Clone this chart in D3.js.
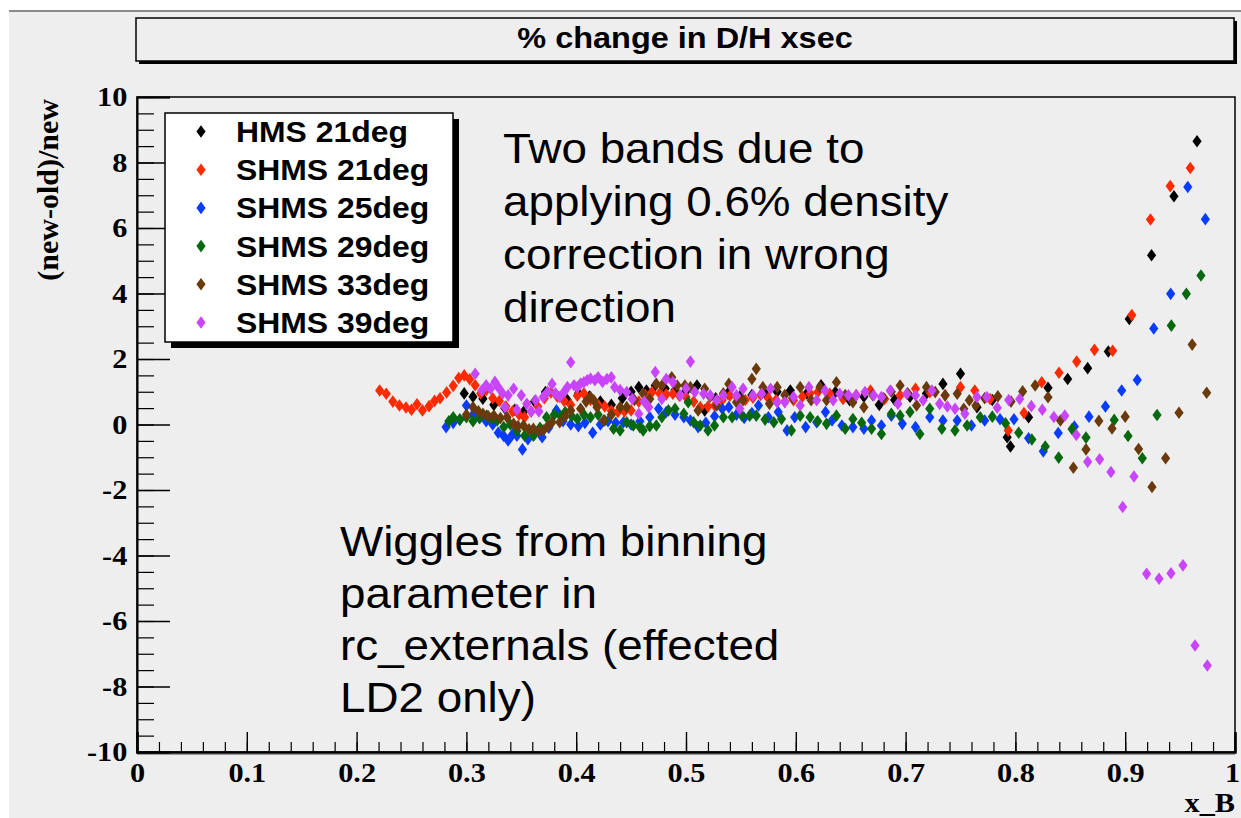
<!DOCTYPE html>
<html>
<head>
<meta charset="utf-8">
<script src="https://cdn.jsdelivr.net/npm/d3@7"></script>
<style>
  html, body { margin: 0; padding: 0; background: #ffffff; }
  svg { display: block; }
</style>
</head>
<body>
<svg id="chart" width="1241" height="818"></svg>
<script>
// ---- series (x_B, percent change) ----
const seriesNames = ["HMS 21deg", "SHMS 21deg", "SHMS 25deg", "SHMS 29deg", "SHMS 33deg", "SHMS 39deg"];
const seriesColors = ["#000000", "#ff2a00", "#0a3cff", "#07680f", "#6a3a0c", "#c845fb"];

const hms21 = [
  [0.298,0.95],[0.306,0.85],[0.315,0.79],[0.325,0.60],[0.335,0.50],[0.344,0.45],[0.352,0.38],[0.362,0.70],
  [0.372,0.99],[0.382,0.90],[0.392,0.75],[0.402,0.95],[0.412,0.85],[0.422,0.70],[0.432,0.60],[0.442,0.80],
  [0.450,1.00],[0.457,1.14],[0.464,1.04],[0.472,1.19],[0.481,1.10],[0.490,1.05],[0.500,1.02],[0.510,1.19],
  [0.517,0.43],[0.527,0.80],[0.538,0.95],[0.549,0.85],[0.560,0.90],[0.572,0.95],[0.583,1.00],[0.595,1.04],
  [0.610,0.95],[0.623,1.20],[0.636,0.99],[0.649,0.74],[0.662,0.85],[0.676,0.60],[0.690,0.75],[0.704,0.85],
  [0.719,0.95],[0.734,1.24],[0.750,1.55],[0.765,0.53],[0.779,0.75],[0.7925,-0.39],[0.7955,-0.67],[0.812,0.22],
  [0.8297,1.12],[0.8476,1.39],[0.8658,1.72],[0.8846,2.23],[0.9037,3.22],[0.924,5.17],[0.9444,6.97],[0.9654,8.65]
];
const shms21 = [
  [0.221,1.04],[0.227,0.94],[0.233,0.70],[0.239,0.58],[0.245,0.52],[0.250,0.45],[0.255,0.62],[0.260,0.43],
  [0.266,0.56],[0.271,0.72],[0.276,0.80],[0.282,0.98],[0.288,1.18],[0.293,1.42],[0.298,1.50],[0.303,1.38],
  [0.308,1.20],[0.313,0.95],[0.318,1.05],[0.324,0.80],[0.330,0.72],[0.336,0.55],[0.342,0.40],[0.348,0.30],
  [0.353,0.22],[0.359,0.40],[0.365,0.55],[0.371,0.80],[0.377,0.98],[0.383,0.85],[0.389,0.72],[0.395,0.60],
  [0.401,0.88],[0.407,0.95],[0.413,0.75],[0.420,0.60],[0.426,0.55],[0.432,0.42],[0.438,0.38],[0.444,0.40],
  [0.450,0.43],[0.457,0.70],[0.463,0.90],[0.469,0.99],[0.476,0.95],[0.482,0.92],[0.488,0.94],[0.494,0.88],
  [0.500,0.84],[0.507,0.70],[0.513,0.53],[0.520,0.55],[0.526,0.58],[0.533,0.75],[0.540,0.88],[0.547,0.80],
  [0.554,0.75],[0.561,0.82],[0.568,0.90],[0.575,0.80],[0.582,0.75],[0.590,0.70],[0.598,0.74],[0.606,0.85],
  [0.613,0.95],[0.620,0.99],[0.631,0.94],[0.643,0.78],[0.655,0.90],[0.668,1.04],[0.681,0.78],[0.695,0.89],
  [0.709,1.09],[0.722,0.99],[0.736,0.89],[0.750,1.14],[0.763,1.04],[0.777,0.78],[0.7935,-0.18],[0.8078,0.35],
  [0.824,1.29],[0.8397,1.58],[0.8558,1.92],[0.872,2.28],[0.8886,2.25],[0.906,3.34],[0.923,6.26],[0.941,7.28],
  [0.9593,7.83]
];
const shms25 = [
  [0.2815,-0.08],[0.288,0.05],[0.294,0.15],[0.300,0.58],[0.306,0.30],[0.312,0.20],[0.318,0.10],[0.324,0.00],
  [0.329,-0.25],[0.334,-0.35],[0.338,-0.49],[0.342,-0.30],[0.346,-0.34],[0.351,-0.76],[0.356,-0.45],[0.362,-0.30],
  [0.369,-0.39],[0.375,-0.10],[0.382,0.43],[0.388,0.10],[0.395,0.00],[0.402,-0.05],[0.408,0.05],[0.415,-0.25],
  [0.422,0.00],[0.429,0.10],[0.436,0.05],[0.443,0.07],[0.450,0.00],[0.458,0.10],[0.467,0.22],[0.475,0.48],
  [0.482,0.38],[0.490,0.30],[0.498,0.22],[0.504,0.12],[0.511,-0.08],[0.518,0.05],[0.526,0.25],[0.533,0.48],
  [0.539,0.53],[0.546,0.30],[0.553,0.20],[0.560,0.35],[0.566,0.58],[0.575,0.22],[0.584,0.38],[0.592,-0.18],
  [0.599,0.22],[0.609,-0.08],[0.619,0.07],[0.627,0.38],[0.633,0.12],[0.642,-0.03],[0.652,-0.08],[0.662,-0.13],
  [0.669,0.12],[0.678,-0.03],[0.687,0.27],[0.697,0.02],[0.709,-0.08],[0.722,0.22],[0.734,0.12],[0.747,0.12],
  [0.760,-0.03],[0.772,0.12],[0.786,0.16],[0.7987,0.16],[0.812,-0.42],[0.8254,-0.82],[0.839,-0.26],[0.8537,-0.06],
  [0.867,0.24],[0.882,0.55],[0.8968,1.04],[0.911,1.36],[0.926,2.93],[0.9414,3.99],[0.957,7.25],[0.973,6.27]
];
const shms29 = [
  [0.284,0.10],[0.288,0.22],[0.294,0.15],[0.300,0.22],[0.306,0.10],[0.312,0.20],[0.3185,0.27],[0.323,0.18],
  [0.328,0.12],[0.334,-0.08],[0.340,0.00],[0.346,-0.20],[0.353,-0.34],[0.361,-0.34],[0.367,-0.10],[0.373,0.22],
  [0.380,0.30],[0.386,0.25],[0.390,0.38],[0.396,0.25],[0.401,0.17],[0.407,0.30],[0.413,0.22],[0.420,0.30],
  [0.426,0.12],[0.434,-0.13],[0.440,-0.18],[0.446,0.07],[0.452,-0.03],[0.458,-0.08],[0.461,-0.18],[0.467,-0.05],
  [0.473,-0.03],[0.478,0.22],[0.484,0.43],[0.490,0.48],[0.498,0.33],[0.502,0.68],[0.507,0.07],[0.513,-0.03],
  [0.520,-0.18],[0.526,-0.03],[0.534,0.22],[0.542,0.22],[0.551,0.27],[0.558,0.27],[0.564,0.27],[0.572,0.15],
  [0.580,0.07],[0.587,0.17],[0.596,-0.18],[0.604,0.27],[0.613,0.22],[0.620,0.10],[0.628,0.02],[0.637,0.27],
  [0.645,-0.13],[0.652,0.17],[0.660,0.05],[0.669,-0.13],[0.678,-0.29],[0.687,0.33],[0.695,0.27],[0.704,0.38],
  [0.713,-0.29],[0.722,0.48],[0.733,-0.13],[0.745,-0.18],[0.756,-0.03],[0.768,0.22],[0.779,0.24],[0.791,0.04],
  [0.803,-0.25],[0.815,-0.46],[0.8272,-0.67],[0.8394,-1.01],[0.8516,-0.14],[0.8643,-0.40],[0.890,0.14],[0.9026,-0.35],
  [0.9156,-1.03],[0.929,0.29],[0.942,3.02],[0.9557,3.99],[0.969,4.55]
];
const shms33 = [
  [0.300,0.30],[0.306,0.53],[0.311,0.40],[0.315,0.33],[0.320,0.25],[0.325,0.27],[0.331,0.20],[0.337,0.22],
  [0.343,0.02],[0.347,-0.05],[0.352,-0.03],[0.357,-0.15],[0.361,-0.13],[0.366,-0.20],[0.370,-0.18],[0.374,-0.05],
  [0.378,0.07],[0.385,0.07],[0.390,0.25],[0.395,0.43],[0.404,0.48],[0.409,0.70],[0.413,0.84],[0.416,0.74],
  [0.419,0.53],[0.425,0.12],[0.432,0.30],[0.440,0.53],[0.446,0.53],[0.453,0.75],[0.461,0.94],[0.467,0.78],
  [0.473,1.24],[0.478,1.19],[0.487,1.44],[0.492,1.19],[0.499,1.19],[0.504,1.14],[0.511,0.43],[0.517,1.09],
  [0.522,0.85],[0.528,0.58],[0.534,0.95],[0.539,1.24],[0.546,0.68],[0.552,0.74],[0.560,1.39],[0.564,1.70],
  [0.570,1.14],[0.576,0.63],[0.583,1.14],[0.590,0.90],[0.597,0.80],[0.604,1.14],[0.614,0.74],[0.622,1.14],
  [0.628,0.74],[0.637,1.29],[0.645,0.90],[0.652,0.68],[0.662,0.53],[0.670,0.90],[0.680,0.80],[0.687,1.00],
  [0.695,1.19],[0.702,0.95],[0.710,0.58],[0.719,1.14],[0.727,0.99],[0.736,0.89],[0.747,0.94],[0.753,0.48],
  [0.758,0.74],[0.764,0.58],[0.772,0.80],[0.784,0.86],[0.796,0.70],[0.8066,1.01],[0.818,1.19],[0.8297,0.83],
  [0.841,0.12],[0.8528,-1.32],[0.8643,-0.76],[0.876,0.11],[0.888,-0.12],[0.900,0.24],[0.9122,-0.75],[0.9244,-1.91],
  [0.9368,-1.03],[0.949,0.36],[0.961,2.44],[0.9742,0.97]
];
const shms39 = [
  [0.308,1.55],[0.314,1.04],[0.318,1.20],[0.322,1.09],[0.326,1.30],[0.329,1.14],[0.333,0.95],[0.335,0.53],
  [0.338,0.89],[0.343,1.09],[0.346,0.45],[0.350,0.89],[0.355,0.63],[0.359,0.40],[0.363,0.74],[0.366,0.40],
  [0.370,0.84],[0.374,1.00],[0.378,1.24],[0.381,0.95],[0.385,0.84],[0.389,1.00],[0.392,1.14],[0.395,1.90],
  [0.398,1.20],[0.401,1.14],[0.404,1.25],[0.407,1.29],[0.410,1.35],[0.413,1.40],[0.417,1.35],[0.420,1.44],
  [0.424,1.30],[0.428,1.39],[0.432,1.44],[0.435,1.14],[0.440,1.05],[0.446,0.99],[0.451,0.78],[0.457,0.33],
  [0.462,0.70],[0.466,0.53],[0.472,1.60],[0.478,0.78],[0.482,1.39],[0.488,1.29],[0.495,0.89],[0.500,1.10],
  [0.504,1.92],[0.508,0.99],[0.516,0.94],[0.522,0.89],[0.528,0.74],[0.534,0.89],[0.542,1.14],[0.546,0.89],
  [0.549,0.48],[0.552,1.09],[0.561,0.89],[0.569,0.94],[0.577,1.09],[0.583,0.68],[0.590,0.68],[0.598,0.84],
  [0.604,0.58],[0.612,1.14],[0.619,0.74],[0.6266,1.04],[0.634,0.74],[0.640,0.94],[0.648,0.89],[0.655,0.89],
  [0.663,0.99],[0.671,0.89],[0.678,0.84],[0.686,1.04],[0.693,0.63],[0.701,0.94],[0.709,0.89],[0.716,0.74],
  [0.724,1.04],[0.731,0.63],[0.738,0.55],[0.745,0.48],[0.754,0.33],[0.765,0.84],[0.774,0.84],[0.7835,0.51],
  [0.7939,0.75],[0.8039,0.78],[0.8145,0.56],[0.8245,0.45],[0.835,0.23],[0.845,0.27],[0.8555,-0.32],[0.8658,-1.14],
  [0.8767,-1.06],[0.887,-1.45],[0.8977,-2.52],[0.908,-1.59],[0.9195,-4.56],[0.9308,-4.71],[0.9417,-4.54],[0.9526,-4.30],
  [0.9636,-6.75],[0.9748,-7.36]
];
const seriesData = [hms21, shms21, shms25, shms29, shms33, shms39];

// ---- axes and text ----
const xTickValues = [0, 0.1, 0.2, 0.3, 0.4, 0.5, 0.6, 0.7, 0.8, 0.9, 1];
const xTickLabels = ["0", "0.1", "0.2", "0.3", "0.4", "0.5", "0.6", "0.7", "0.8", "0.9", "1"];
const yTickValues = [-10, -8, -6, -4, -2, 0, 2, 4, 6, 8, 10];
const yTickLabels = ["-10", "-8", "-6", "-4", "-2", "0", "2", "4", "6", "8", "10"];
const titleText = "% change in D/H xsec";
const yAxisTitle = "(new-old)/new";
const xAxisTitle = "x_B";
const noteUpper = ["Two bands due to", "applying 0.6% density", "correction in wrong", "direction"];
const noteLower = ["Wiggles from binning", "parameter in", "rc_externals (effected", "LD2 only)"];

// ---- drawing ----
const W = 1241, H = 818;
const SANS = "'Liberation Sans', Arial, Helvetica, sans-serif";
const SERIF = "'Liberation Serif', 'Times New Roman', Times, serif";
const BG = "#eeeeee";

const frame = { left: 137, right: 1235, top: 97, bottom: 752 };
const x = d3.scaleLinear().domain([0, 1]).range([frame.left, frame.right]);
const y = d3.scaleLinear().domain([-10, 10]).range([frame.bottom, frame.top]);

const svg = d3.select("#chart");

// canvas
svg.append("rect").attr("width", W).attr("height", H).attr("fill", "#ffffff");
svg.append("rect").attr("x", 9).attr("y", 12).attr("width", W - 9).attr("height", H - 12).attr("fill", BG);
svg.append("line").attr("x1", 9).attr("x2", W).attr("y1", 11).attr("y2", 11)
  .attr("stroke", "#8a8a8a").attr("stroke-width", 2);

// text helper: horizontally widened glyphs around the anchor point
function label(parent, px, py, str, o) {
  const g = parent.append("g").attr("transform", `translate(${px},${py}) scale(${o.sx || 1},1)`);
  return g.append("text")
    .attr("text-anchor", o.anchor || "start")
    .style("font-family", o.family)
    .style("font-size", o.size + "px")
    .style("font-weight", o.weight || "normal")
    .attr("fill", "#000")
    .text(str);
}

// title pave with shadow
svg.append("rect").attr("x", 139).attr("y", 21).attr("width", 1098).attr("height", 43).attr("fill", "#000");
svg.append("rect").attr("x", 136).attr("y", 18).attr("width", 1098).attr("height", 43)
  .attr("fill", BG).attr("stroke", "#000").attr("stroke-width", 1.5);
label(svg, 685, 48, titleText, { family: SANS, size: 29, weight: "bold", anchor: "middle", sx: 1.12 });

// frame
svg.append("rect").attr("x", frame.left).attr("y", frame.top)
  .attr("width", frame.right - frame.left).attr("height", frame.bottom - frame.top)
  .attr("fill", BG).attr("stroke", "#000").attr("stroke-width", 1.5);

// x axis: major and minor ticks pointing up into the frame
const xMinor = d3.range(0, 51).map(i => i / 50);
svg.append("g").attr("transform", `translate(0,${frame.bottom})`)
  .call(d3.axisBottom(x).tickValues(xMinor).tickSize(-10).tickFormat(""))
  .call(g => g.select(".domain").remove())
  .call(g => g.selectAll("line").attr("stroke", "#000").attr("stroke-width", 1.2));
const xAxisG = svg.append("g").attr("transform", `translate(0,${frame.bottom})`)
  .call(d3.axisBottom(x).tickValues(xTickValues).tickSize(-20).tickPadding(10)
    .tickFormat((d, i) => xTickLabels[i]));
xAxisG.select(".domain").attr("stroke", "#000").attr("stroke-width", 2.5);
xAxisG.selectAll("line").attr("stroke", "#000").attr("stroke-width", 1.4);
xAxisG.selectAll("text")
  .style("font-family", SERIF).style("font-size", "28px").style("font-weight", "bold")
  .attr("fill", "#000").attr("transform", "scale(1.08,1)");
// the last label sits against the right edge of the canvas
xAxisG.selectAll(".tick").filter(d => d === 1).select("text").attr("dx", "-0.1em");
svg.append("line").attr("x1", frame.left).attr("x2", frame.right)
  .attr("y1", frame.bottom + 2.5).attr("y2", frame.bottom + 2.5)
  .attr("stroke", "#9a9a9a").attr("stroke-width", 1);

// y axis: ticks pointing right into the frame
const yMinor = d3.range(0, 41).map(i => -10 + i * 0.5);
svg.append("g").attr("transform", `translate(${frame.left},0)`)
  .call(d3.axisLeft(y).tickValues(yMinor).tickSize(-17).tickFormat(""))
  .call(g => g.select(".domain").remove())
  .call(g => g.selectAll("line").attr("stroke", "#000").attr("stroke-width", 1.2));
const yAxisG = svg.append("g").attr("transform", `translate(${frame.left},0)`)
  .call(d3.axisLeft(y).tickValues(yTickValues).tickSize(-33).tickPadding(9)
    .tickFormat((d, i) => yTickLabels[i]));
yAxisG.select(".domain").attr("stroke", "#000").attr("stroke-width", 2);
yAxisG.selectAll("line").attr("stroke", "#000").attr("stroke-width", 1.4);
yAxisG.selectAll("text")
  .style("font-family", SERIF).style("font-size", "28px").style("font-weight", "bold")
  .attr("fill", "#000").attr("transform", "scale(1.08,1)");

// axis titles
svg.append("text")
  .attr("transform", `translate(58,${frame.top + 2}) rotate(-90)`)
  .attr("text-anchor", "end")
  .style("font-family", SERIF).style("font-size", "30px").style("font-weight", "bold")
  .text(yAxisTitle);
label(svg, frame.right, 812, xAxisTitle, { family: SERIF, size: 28, weight: "bold", anchor: "end", sx: 1.08 });

// data markers: tall diamonds, drawn series by series
const diamond = "M0,-6.3L4.6,0L0,6.3L-4.6,0Z";
const plot = svg.append("g");
seriesData.forEach((pts, si) => {
  plot.append("g").selectAll("path").data(pts).join("path")
    .attr("d", diamond)
    .attr("transform", d => `translate(${x(d[0])},${y(d[1])})`)
    .attr("fill", seriesColors[si]);
});

// annotations
noteUpper.forEach((t, i) => label(svg, 503, 163 + i * 53, t, { family: SANS, size: 42, sx: 1.09 }));
noteLower.forEach((t, i) => label(svg, 340, 556 + i * 52, t, { family: SANS, size: 42, sx: 1.09 }));

// legend with shadow
const legend = svg.append("g");
legend.append("rect").attr("x", 171).attr("y", 119).attr("width", 288).attr("height", 229).attr("fill", "#000");
legend.append("rect").attr("x", 165).attr("y", 113).attr("width", 288).attr("height", 229)
  .attr("fill", "#ffffff").attr("stroke", "#000").attr("stroke-width", 1.5);
seriesNames.forEach((name, i) => {
  const cy = 131.5 + i * 38.2;
  legend.append("path").attr("d", diamond).attr("transform", `translate(201,${cy})`).attr("fill", seriesColors[i]);
  label(legend, 236, cy + 10.5, name, { family: SANS, size: 29, weight: "bold", sx: 1.1 });
});
</script>
</body>
</html>
